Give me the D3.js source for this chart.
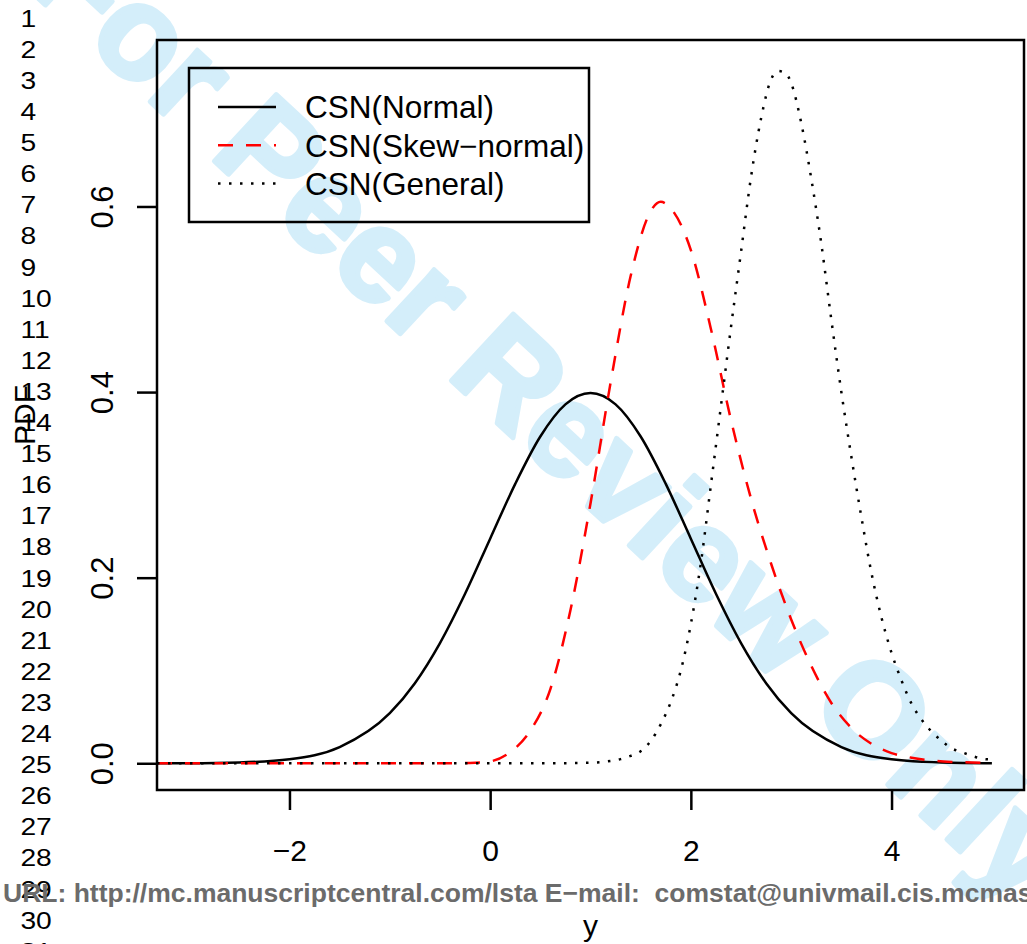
<!DOCTYPE html>
<html>
<head>
<meta charset="utf-8">
<script src="https://cdn.jsdelivr.net/npm/d3@7"></script>
<style>
  body { margin: 0; background: #fff; }
  svg { display: block; font-family: "Liberation Sans", Arial, sans-serif; }
</style>
</head>
<body>
<svg id="chart"></svg>
<script>
// values
const normalX = [-3.32, -3, -2.5, -2, -1.5, -1, -0.75, -0.5, -0.25, 0, 0.25, 0.5, 0.75, 1,
                 1.25, 1.5, 1.75, 2, 2.25, 2.5, 2.75, 3, 3.5, 4, 4.5, 5];
const normalY = [0.00004, 0.0001, 0.0009, 0.0044, 0.0175, 0.054, 0.0863, 0.1295, 0.1826, 0.242,
                 0.3011, 0.3521, 0.3867, 0.3989, 0.3867, 0.3521, 0.3011, 0.242, 0.1826, 0.1295,
                 0.0863, 0.054, 0.0175, 0.0044, 0.0009, 0.0001];

const skewX = [-3.32, -0.5, -0.2, 0, 0.2, 0.4, 0.6, 0.8, 1.0, 1.2, 1.4, 1.6, 1.7, 1.8, 2.0,
               2.2, 2.4, 2.6, 2.8, 3.0, 3.2, 3.4, 3.6, 3.8, 4.0, 4.2, 4.4, 4.6, 4.8, 5.0];
const skewY = [0, 0, 0.0003, 0.002, 0.012, 0.035, 0.08, 0.165, 0.28, 0.41, 0.525, 0.595, 0.605,
               0.598, 0.553, 0.468, 0.37, 0.285, 0.215, 0.155, 0.105, 0.065, 0.038, 0.021, 0.011,
               0.006, 0.003, 0.0015, 0.0008, 0.0004];

const generalX = [-3.32, 0.5, 0.8, 1.0, 1.1, 1.2, 1.3, 1.4, 1.5, 1.6, 1.7, 1.8, 1.9, 2.0, 2.1,
                  2.2, 2.3, 2.4, 2.5, 2.6, 2.7, 2.8, 2.87, 2.95, 3.0, 3.1, 3.2, 3.3, 3.4, 3.5,
                  3.6, 3.7, 3.8, 3.9, 4.0, 4.1, 4.2, 4.3, 4.4, 4.5, 4.6, 4.7, 4.8, 4.9, 5.0];
const generalY = [0, 0, 0.0002, 0.0006, 0.0012, 0.0025, 0.0045, 0.008, 0.013, 0.024, 0.042, 0.066,
                  0.1, 0.15, 0.216, 0.3, 0.385, 0.47, 0.551, 0.632, 0.695, 0.737, 0.746, 0.743,
                  0.733, 0.69, 0.63, 0.56, 0.478, 0.4, 0.33, 0.265, 0.205, 0.157, 0.119, 0.089,
                  0.064, 0.047, 0.034, 0.024, 0.016, 0.012, 0.008, 0.005, 0.004];

const seriesNames = ['CSN(Normal)', 'CSN(Skew\u2212normal)', 'CSN(General)'];
const xTicks = [-2, 0, 2, 4];
const yTicks = [0, 0.2, 0.4, 0.6];

const W = 1027, H = 944;
const plot = {left: 157, right: 1024, top: 40, bottom: 790};

const svg = d3.select('#chart').attr('width', W).attr('height', H);

// background watermark
svg.append('text')
    .attr('transform', 'translate(523,447) rotate(42.8)')
    .attr('text-anchor', 'middle')
    .attr('font-weight', 'bold')
    .attr('font-size', 132)
    .attr('fill', '#d4eefa')
    .attr('stroke', '#d4eefa')
    .attr('stroke-width', 5)
    .attr('stroke-linejoin', 'round')
    .text('For Peer Review Only');

const x = d3.scaleLinear().domain([-3.32, 5.32]).range([plot.left, plot.right]);
const y = d3.scaleLinear().domain([-0.0288, 0.7794]).range([plot.bottom, plot.top]);

svg.append('clipPath').attr('id', 'clip')
  .append('rect')
    .attr('x', plot.left).attr('y', plot.top)
    .attr('width', plot.right - plot.left).attr('height', plot.bottom - plot.top);

const styles = [
  {color: '#000', dash: null},
  {color: '#ff0000', dash: '15,13'},
  {color: '#000', dash: '2.5,8.5'}
];
const series = [
  normalX.map((v, i) => [v, normalY[i]]),
  skewX.map((v, i) => [v, skewY[i]]),
  generalX.map((v, i) => [v, generalY[i]])
];

const line = d3.line()
    .x(d => x(d[0]))
    .y(d => y(d[1]))
    .curve(d3.curveMonotoneX);

svg.append('g').attr('clip-path', 'url(#clip)')
  .selectAll('path')
  .data(series)
  .join('path')
    .attr('d', line)
    .attr('fill', 'none')
    .attr('stroke', (d, i) => styles[i].color)
    .attr('stroke-width', 2.5)
    .attr('stroke-dasharray', (d, i) => styles[i].dash);

// axes, R style: outward ticks, rotated y labels
const xAxis = d3.axisBottom(x).tickValues(xTicks).tickSize(20).tickSizeOuter(0)
    .tickFormat(d => d < 0 ? '\u2212' + Math.abs(d) : d);
const xAxisG = svg.append('g').attr('transform', `translate(0,${plot.bottom})`).call(xAxis);
xAxisG.select('.domain').remove();
xAxisG.selectAll('line').attr('stroke', '#000').attr('stroke-width', 2.5);
xAxisG.selectAll('text').attr('fill', '#000').attr('font-size', 30)
    .attr('font-family', '"Liberation Sans", Arial, sans-serif').attr('dy', null).attr('y', 71);

const yAxis = d3.axisLeft(y).tickValues(yTicks).tickSize(20).tickSizeOuter(0)
    .tickFormat(d3.format('.1f'));
const yAxisG = svg.append('g').attr('transform', `translate(${plot.left},0)`).call(yAxis);
yAxisG.select('.domain').remove();
yAxisG.selectAll('line').attr('stroke', '#000').attr('stroke-width', 2.5);
yAxisG.selectAll('text')
    .attr('fill', '#000').attr('font-size', 31)
    .attr('font-family', '"Liberation Sans", Arial, sans-serif')
    .attr('x', null).attr('dy', null)
    .attr('text-anchor', 'middle')
    .attr('transform', 'translate(-44,0) rotate(-90)');

svg.append('rect')
    .attr('x', plot.left).attr('y', plot.top)
    .attr('width', plot.right - plot.left).attr('height', plot.bottom - plot.top)
    .attr('fill', 'none').attr('stroke', '#000').attr('stroke-width', 2.5);

svg.append('text')
    .attr('x', (plot.left + plot.right) / 2).attr('y', 936)
    .attr('text-anchor', 'middle').attr('font-size', 30)
    .text('y');
svg.append('text')
    .attr('transform', `translate(35,${(plot.top + plot.bottom) / 2}) rotate(-90)`)
    .attr('text-anchor', 'middle').attr('font-size', 30)
    .text('PDF');

// legend
const legend = svg.append('g');
legend.append('rect')
    .attr('x', 189).attr('y', 68).attr('width', 400).attr('height', 154)
    .attr('fill', 'none').attr('stroke', '#000').attr('stroke-width', 2.5);
const rows = legend.selectAll('g.row')
  .data(seriesNames)
  .join('g').attr('class', 'row')
    .attr('transform', (d, i) => `translate(0,${107 + i * 38.3})`);
rows.append('line')
    .attr('x1', 218).attr('x2', 276)
    .attr('stroke', (d, i) => styles[i].color)
    .attr('stroke-width', 2.5)
    .attr('stroke-dasharray', (d, i) => styles[i].dash);
rows.append('text')
    .attr('x', 305).attr('dy', '0.36em').attr('font-size', 31.5)
    .text(d => d);

// manuscript page furniture: line numbers and footer
const lineNos = d3.range(1, 32);
svg.append('g').attr('transform', 'scale(1.2,1)')
  .selectAll('text')
  .data(lineNos)
  .join('text')
    .attr('x', 17).attr('y', (d, i) => 18.3 + i * 31.1)
    .attr('dy', '0.36em').attr('font-size', 23.5)
    .text(d => d);

svg.append('text')
    .attr('x', 3).attr('y', 902)
    .attr('font-weight', 'bold').attr('font-size', 26.5)
    .attr('fill', '#6b6b6b')
    .style('white-space', 'pre')
    .text('URL: http://mc.manuscriptcentral.com/lsta E\u2212mail:  comstat@univmail.cis.mcmaster.ca');
</script>
</body>
</html>
